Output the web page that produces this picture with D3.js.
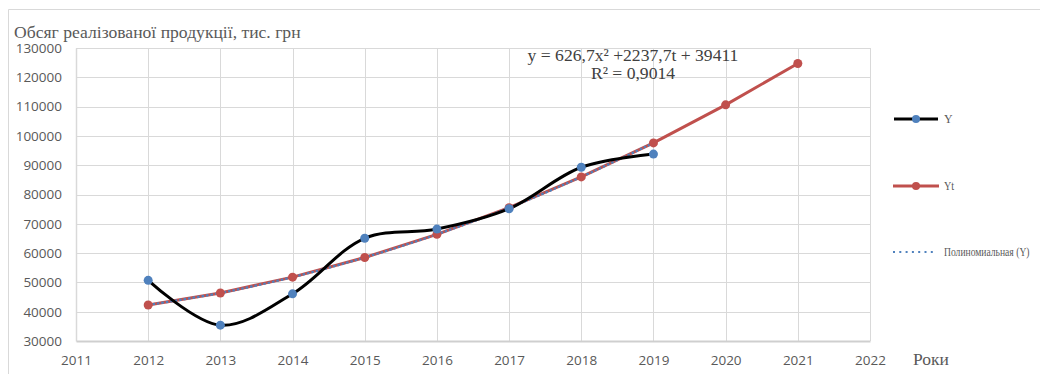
<!DOCTYPE html>
<html>
<head>
<meta charset="utf-8">
<script src="https://cdn.jsdelivr.net/npm/d3@7/dist/d3.min.js"></script>
<style>
  html, body { margin: 0; padding: 0; background: #fff; }
  svg { display: block; }
</style>
</head>
<body>
<svg id="chart" width="1040" height="374"></svg>
<script>
// Years on the x axis and the two series
const years = [2012, 2013, 2014, 2015, 2016, 2017, 2018, 2019, 2020, 2021];
const actualY = [50700, 35400, 46100, 65050, 68200, 75150, 89300, 93800];
const fittedYt = [42300, 46400, 51800, 58500, 66400, 75500, 86000, 97600, 110600, 124700];
const yTicks = [30000, 40000, 50000, 60000, 70000, 80000, 90000, 100000, 110000, 120000, 130000];
const xTicks = [2011, 2012, 2013, 2014, 2015, 2016, 2017, 2018, 2019, 2020, 2021, 2022];
const legendLabels = ["Y", "Yt", "Полиномиальная (Y)"];
const titleText = "Обсяг реалізованої продукції, тис. грн";
const xAxisTitle = "Роки";
const equationLines = ["y = 626,7x² +2237,7t + 39411", "R² = 0,9014"];

const svg = d3.select("#chart");
const plot = { left: 76, right: 870, top: 48, bottom: 341 };

const x = d3.scaleLinear().domain([2011, 2022]).range([plot.left, plot.right]);
const y = d3.scaleLinear().domain([30000, 130000]).range([plot.bottom, plot.top]);

const BLUE = "#4F81BD", RED = "#C0504D", GRID = "#d9d9d9", TXT = "#595959";
const sansFont = "'Open Sans', 'Liberation Sans', sans-serif";
const serifFont = "'Liberation Serif', 'DejaVu Serif', serif";

// Outer chart frame
svg.append("path")
  .attr("d", "M8.5,374 V9.5 H1040")
  .attr("fill", "none").attr("stroke", GRID).attr("stroke-width", 1);

// Gridlines
const grid = svg.append("g");
grid.selectAll("line.h").data(yTicks.slice(1)).join("line")
  .attr("x1", plot.left).attr("x2", plot.right)
  .attr("y1", d => Math.round(y(d)) + 0.5).attr("y2", d => Math.round(y(d)) + 0.5)
  .attr("stroke", GRID).attr("stroke-width", 1);
grid.selectAll("line.v").data(xTicks.slice(1)).join("line")
  .attr("x1", d => Math.round(x(d)) + 0.5).attr("x2", d => Math.round(x(d)) + 0.5)
  .attr("y1", plot.top).attr("y2", plot.bottom)
  .attr("stroke", GRID).attr("stroke-width", 1);

// Axes
const yAxis = d3.axisLeft(y).tickValues(yTicks).tickSize(0).tickPadding(14).tickFormat(d3.format("d"));
const gy = svg.append("g").attr("transform", `translate(${plot.left},0)`).call(yAxis);
gy.select(".domain").attr("stroke", GRID).attr("stroke-width", 1.5);
gy.selectAll("text").attr("font-family", sansFont).attr("font-size", 13.5).attr("fill", TXT);

const xAxis = d3.axisBottom(x).tickValues(xTicks).tickSize(0).tickPadding(14).tickFormat(d3.format("d"));
const gx = svg.append("g").attr("transform", `translate(0,${plot.bottom})`).call(xAxis);
gx.select(".domain").attr("stroke", "#cfcfcf").attr("stroke-width", 2);
gx.selectAll("text").attr("font-family", sansFont).attr("font-size", 13.5).attr("fill", TXT);

// Titles
svg.append("text").attr("x", 14).attr("y", 38).text(titleText)
  .attr("font-family", serifFont).attr("font-size", 17.6).attr("fill", TXT);
svg.append("text").attr("x", 913).attr("y", 365).text(xAxisTitle)
  .attr("font-family", serifFont).attr("font-size", 17.5).attr("fill", TXT);

// Series lines
const actualPts = actualY.map((v, i) => [years[i], v]);
const fittedPts = fittedYt.map((v, i) => [years[i], v]);
const smooth = d3.line().x(d => x(d[0])).y(d => y(d[1])).curve(d3.curveCatmullRom.alpha(0.5));
const straight = d3.line().x(d => x(d[0])).y(d => y(d[1]));

svg.append("path").attr("d", straight(fittedPts))
  .attr("fill", "none").attr("stroke", RED).attr("stroke-width", 3).attr("stroke-linejoin", "round");

// Polynomial trend of Y over the observed years
svg.append("path").attr("d", smooth(fittedPts.slice(0, actualY.length)))
  .attr("fill", "none").attr("stroke", BLUE).attr("stroke-width", 2.2).attr("stroke-dasharray", "2.5,2");

svg.append("path").attr("d", smooth(actualPts))
  .attr("fill", "none").attr("stroke", "#000").attr("stroke-width", 3).attr("stroke-linejoin", "round");

// Markers
svg.append("g").selectAll("circle").data(fittedPts).join("circle")
  .attr("cx", d => x(d[0])).attr("cy", d => y(d[1])).attr("r", 4.5).attr("fill", RED);
svg.append("g").selectAll("circle").data(actualPts).join("circle")
  .attr("cx", d => x(d[0])).attr("cy", d => y(d[1])).attr("r", 4.5).attr("fill", BLUE);

// Trend equation
svg.append("g").selectAll("text").data(equationLines).join("text")
  .attr("x", 633).attr("y", (d, i) => 61 + i * 18)
  .attr("text-anchor", "middle").text(d => d)
  .attr("font-family", serifFont).attr("font-size", 17.6).attr("fill", "#404040");

// Legend
const legend = svg.append("g");
const ly = [119, 186, 252];
legend.append("line").attr("x1", 894).attr("x2", 938).attr("y1", ly[0]).attr("y2", ly[0])
  .attr("stroke", "#000").attr("stroke-width", 3);
legend.append("circle").attr("cx", 916).attr("cy", ly[0]).attr("r", 4).attr("fill", BLUE);
legend.append("line").attr("x1", 893).attr("x2", 939).attr("y1", ly[1]).attr("y2", ly[1])
  .attr("stroke", RED).attr("stroke-width", 3);
legend.append("circle").attr("cx", 916).attr("cy", ly[1]).attr("r", 4).attr("fill", RED);
legend.append("line").attr("x1", 893).attr("x2", 935).attr("y1", ly[2]).attr("y2", ly[2])
  .attr("stroke", BLUE).attr("stroke-width", 2).attr("stroke-dasharray", "2,4.3");

// Legend labels are horizontally condensed
const legendScaleX = [1, 0.85, 0.8];
legend.selectAll("text").data(legendLabels).join("text")
  .attr("transform", (d, i) => `translate(944,${ly[i] + 4}) scale(${legendScaleX[i]},1)`)
  .text(d => d)
  .attr("font-family", serifFont).attr("font-size", 12).attr("fill", TXT);
</script>
</body>
</html>
